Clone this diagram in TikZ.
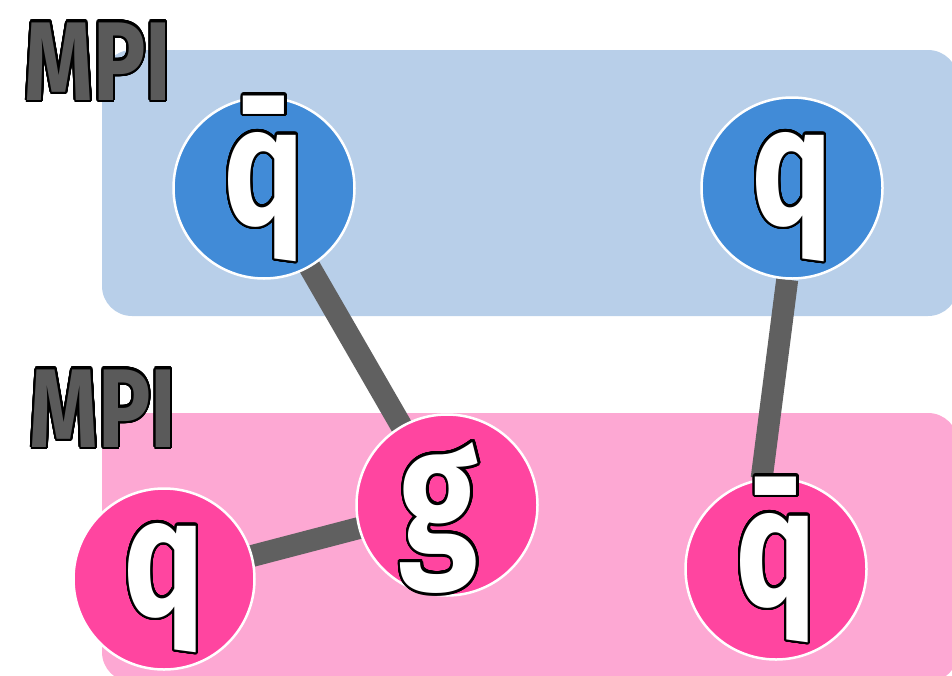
\documentclass[tikz,border=0pt]{standalone}
\usepackage{fontspec}
\setmainfont{Fira Sans}
\usepackage{graphicx}
\usepackage{contour}
\contourlength{2.5pt}
\contournumber{32}
\definecolor{bluebg}{HTML}{B8CFE9}
\definecolor{bluec}{HTML}{418BD7}
\definecolor{pinkbg}{HTML}{FDA8D3}
\definecolor{pinkc}{HTML}{FF45A0}
\definecolor{edgegray}{HTML}{606060}
\definecolor{mpigray}{HTML}{5A5A5A}
\pgfdeclarelayer{bg}
\pgfdeclarelayer{edges}
\pgfsetlayers{bg,edges,main}
\tikzset{
  particle/.style={circle, draw=white, line width=2.5pt, minimum size=181pt, inner sep=0pt,
    text=white, font=\fontsize{150}{150}\selectfont\bfseries, text height=100pt, text depth=28pt},
  bluep/.style={particle, fill=bluec},
  pinkp/.style={particle, fill=pinkc},
  gluon/.style={particle, fill=pinkc, text height=100pt, text depth=4pt},
  link/.style={draw=edgegray, line width=22pt},
  mpilabel/.style={anchor=base, text=mpigray, inner sep=0pt, font=\fontsize{112}{112}\selectfont\bfseries},
  regionbox/.style={rounded corners=30pt}
}
\begin{document}
\begin{tikzpicture}[x=1pt,y=-1pt]
\useasboundingbox (0,0) rectangle (952,675);
\clip (0,0) rectangle (952,675);
\begin{pgfonlayer}{bg}
  \fill[bluebg, regionbox] (102,50) rectangle (958,316);
  \fill[pinkbg, regionbox] (102,413) rectangle (958,682);
\end{pgfonlayer}
\node[mpilabel] (mpitop) at (98,100) {\scalebox{0.78}[1]{\contour{black}{MPI}}};
\node[mpilabel] (mpibot) at (103,447) {\scalebox{0.78}[1]{\contour{black}{MPI}}};
\node[bluep] (qbarT) at (264,188) {\scalebox{0.9}[1.12]{\contour{black}{q̄}}};
\node[bluep] (qT) at (792,188) {\scalebox{0.9}[1.12]{\contour{black}{q}}};
\node[gluon] (g) at (447,505) {\hspace*{-16pt}\scalebox{0.95}[1.2]{\contour{black}{g}}};
\node[pinkp] (qP) at (164,579) {\scalebox{0.9}[1.12]{\contour{black}{q}}};
\node[pinkp] (qbarP) at (776,569) {\scalebox{0.9}[1.12]{\contour{black}{q̄}}};
\begin{pgfonlayer}{edges}
  \draw[link] (qbarT.center) -- (g.center);
  \draw[link] (qP.center) -- (g.center);
  \draw[link] (qT.267) -- (qbarP.99);
\end{pgfonlayer}
\end{tikzpicture}
\end{document}
